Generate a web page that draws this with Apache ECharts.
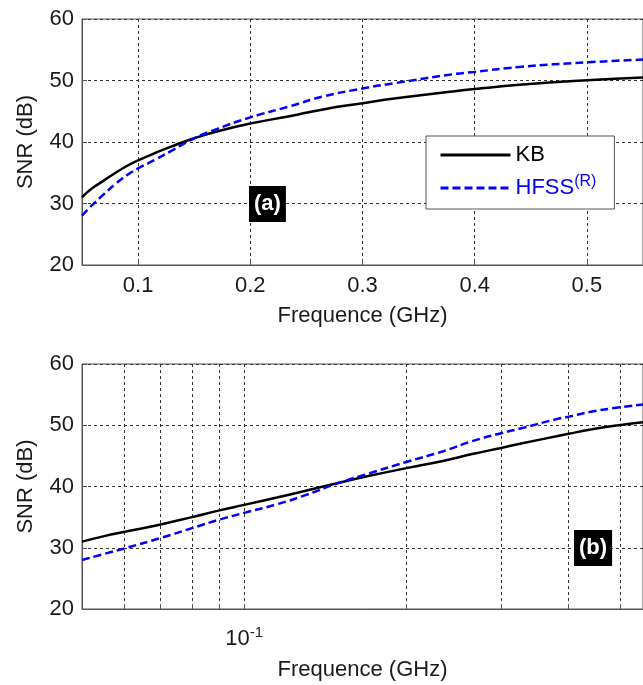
<!DOCTYPE html>
<html><head><meta charset="utf-8">
<script src="https://cdn.jsdelivr.net/npm/echarts@6/dist/echarts.min.js"></script>
<style>html,body{margin:0;padding:0;background:#fff}#c{width:643px;height:685px}</style>
</head><body><div id="c"></div>
<script>
// ---- data ----
const freq = [0.05, 0.055, 0.06, 0.07, 0.08, 0.09, 0.10, 0.115, 0.13, 0.15, 0.17, 0.20, 0.235, 0.265, 0.30, 0.33, 0.38, 0.40, 0.44, 0.50, 0.55];
const kb   = [31.0, 31.9, 32.6, 33.8, 35.0, 36.1, 37.0, 38.2, 39.3, 40.6, 41.7, 43.0, 44.2, 45.3, 46.3, 47.1, 48.2, 48.6, 49.3, 50.05, 50.5];
const hfss = [28.0, 29.0, 29.9, 31.6, 33.2, 34.6, 35.7, 37.1, 38.6, 40.6, 42.1, 44.0, 45.8, 47.4, 48.7, 49.6, 51.0, 51.4, 52.2, 52.95, 53.4];
const xTicksLinear = [0.1, 0.2, 0.3, 0.4, 0.5];
const xGridLog = [0.06, 0.07, 0.08, 0.09, 0.1, 0.2, 0.3, 0.4, 0.5];
const xLabelsLog = [0.1];
const yTicks = [20, 30, 40, 50, 60];
const seriesNames = ['KB', 'HFSS'];
const panelLabels = ['(a)', '(b)'];

const FF = '"Liberation Sans", Arial, sans-serif';
const TXT = '#1a1a1a';
const axisLineStyle = { color: '#555', width: 1 };
const gridLineStyle = { type: [3, 3], color: '#333', width: 1 };

function yAxis(gi) {
  return {
    type: 'value', gridIndex: gi, min: yTicks[0], max: yTicks[yTicks.length - 1], interval: 10,
    name: 'SNR (dB)', nameLocation: 'middle', nameGap: 45,
    nameTextStyle: { fontFamily: FF, fontSize: 22, color: TXT },
    axisLine: { show: true, lineStyle: axisLineStyle },
    axisTick: { show: true, inside: true, length: 5, lineStyle: axisLineStyle },
    axisLabel: { fontFamily: FF, fontSize: 22, color: TXT, margin: 8 },
    splitLine: { show: true, lineStyle: gridLineStyle }
  };
}

const pairs = arr => freq.map((f, i) => [f, arr[i]]);

function series(gi) {
  return [
    { name: seriesNames[0], type: 'line', xAxisIndex: gi, yAxisIndex: gi, data: pairs(kb),
      symbol: 'none', smooth: 0.5,
      lineStyle: { color: '#000', width: 2.5, type: 'solid' }, itemStyle: { color: '#000' } },
    { name: seriesNames[1], type: 'line', xAxisIndex: gi, yAxisIndex: gi, data: pairs(hfss),
      symbol: 'none', smooth: 0.5,
      lineStyle: { color: '#0000ff', width: 2.5, type: [8, 4] }, itemStyle: { color: '#0000ff' } }
  ];
}

const chart = echarts.init(document.getElementById('c'), null, { renderer: 'canvas' });
chart.setOption({
  backgroundColor: '#fff',
  animation: false,
  grid: [
    { left: 82, top: 19, width: 572, height: 246, show: true, borderColor: '#555', borderWidth: 1 },
    { left: 82, top: 364, width: 571, height: 245, show: true, borderColor: '#555', borderWidth: 1 }
  ],
  xAxis: [
    { type: 'value', gridIndex: 0, min: 0.05, max: 0.55,
      name: 'Frequence (GHz)', nameLocation: 'middle', nameGap: 40,
      nameTextStyle: { fontFamily: FF, fontSize: 22, color: TXT },
      axisLine: { show: true, onZero: false, lineStyle: axisLineStyle },
      axisTick: { show: true, inside: true, length: 5, customValues: xTicksLinear, lineStyle: axisLineStyle },
      axisLabel: { customValues: xTicksLinear, fontFamily: FF, fontSize: 22, color: TXT, margin: 10,
                   formatter: v => v.toFixed(1) },
      splitLine: { show: true, lineStyle: gridLineStyle } },
    { type: 'log', logBase: 10, gridIndex: 1, min: 0.05, max: 0.55,
      name: 'Frequence (GHz)', nameLocation: 'middle', nameGap: 50,
      nameTextStyle: { fontFamily: FF, fontSize: 22, color: TXT },
      axisLine: { show: true, onZero: false, lineStyle: axisLineStyle },
      axisTick: { show: true, inside: true, length: 5, customValues: xGridLog, lineStyle: axisLineStyle },
      axisLabel: { customValues: xLabelsLog, fontFamily: FF, fontSize: 22, color: TXT, margin: 16,
                   formatter: v => '{b|10}{s|' + Math.round(Math.log10(v)) + '}',
                   rich: { b: { fontFamily: FF, fontSize: 22, lineHeight: 28, color: TXT },
                           s: { fontFamily: FF, fontSize: 15, verticalAlign: 'top', color: TXT } } },
      splitLine: { show: true, lineStyle: gridLineStyle } }
  ],
  yAxis: [yAxis(0), yAxis(1)],
  legend: {
    left: 426, top: 136, orient: 'vertical',
    backgroundColor: '#fff', borderColor: '#555', borderWidth: 1,
    padding: [8, 18, 10, 13], itemGap: 8, itemWidth: 70, itemHeight: 14,
    itemStyle: { opacity: 0 },
    lineStyle: { width: 3 },
    data: [
      { name: seriesNames[0], textStyle: { color: '#000' } },
      { name: seriesNames[1], textStyle: { color: '#0000ff' } }
    ],
    formatter: n => n === 'HFSS' ? '{m|HFSS}{s|(R)}' : '{m|KB}',
    textStyle: { fontFamily: FF, fontSize: 22,
      rich: { m: { fontFamily: FF, fontSize: 22, lineHeight: 28 },
              s: { fontFamily: FF, fontSize: 16, verticalAlign: 'top' } } }
  },
  graphic: [
    { type: 'text', left: 249, top: 186, z: 100,
      style: { text: panelLabels[0], fill: '#fff', font: 'bold 22px ' + FF, backgroundColor: '#000',
               padding: [5, 5, 5, 5], lineHeight: 26 } },
    { type: 'text', left: 574, top: 530, z: 100,
      style: { text: panelLabels[1], fill: '#fff', font: 'bold 22px ' + FF, backgroundColor: '#000',
               padding: [5, 5, 5, 5], lineHeight: 26 } }
  ],
  series: [...series(0), ...series(1)]
});
</script>
</body></html>
